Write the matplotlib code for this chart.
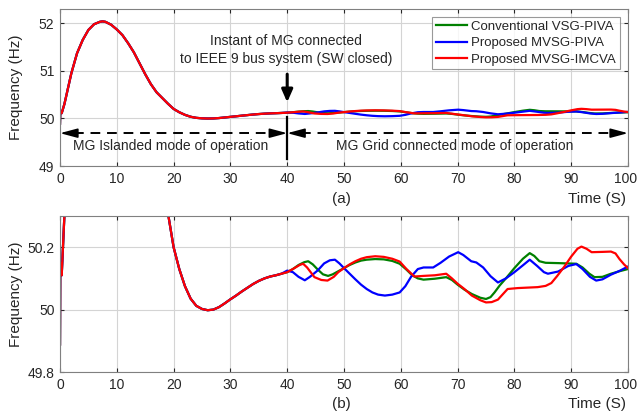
import matplotlib
matplotlib.use("Agg")
import matplotlib.pyplot as plt
from matplotlib.transforms import ScaledTranslation

plt.rcParams['font.family'] = ['Liberation Sans', 'DejaVu Sans']

# Islanded start-up transient (shared by all three controllers), 0-40 s
t_island = [0, 0.05, 0.3, 0.77, 1, 2, 3, 4, 5, 6, 7, 7.5, 8, 9, 10, 11, 12, 13, 14,
            15, 16, 17, 18, 19, 20, 21, 22, 23, 24, 25, 26, 27, 28, 29, 30, 31,
            32, 33, 34, 35, 36, 37, 38, 39]
f_island = [49.888, 50.15, 50.11, 50.30, 50.42, 50.95, 51.37, 51.65, 51.86, 51.98,
            52.03, 52.04, 52.03, 51.97, 51.87, 51.75, 51.58, 51.39, 51.16, 50.93,
            50.72, 50.55, 50.43, 50.31, 50.20, 50.13, 50.075, 50.035, 50.012,
            50.002, 49.998, 50.0, 50.008, 50.02, 50.033, 50.045, 50.058, 50.07,
            50.082, 50.092, 50.10, 50.106, 50.11, 50.115]

# Grid-connected operation, 40-100 s
t_vsg = [40, 41, 42, 43, 43.7, 44.5, 45.4, 46.3, 47.2, 48, 49, 50, 51, 52, 53, 54,
         55.5, 57, 58.5, 59.8, 61, 62, 63, 64, 66, 68, 69, 70, 71.2, 72.5, 74, 75,
         75.8, 76.5, 77.4, 78.5, 80, 81.5, 82.7, 83.5, 84.4, 85.5, 87.7, 90.9, 92,
         93.2, 94.1, 95.5, 97, 98.5, 100]
f_vsg_piva = [50.12, 50.13, 50.143, 50.152, 50.155, 50.145, 50.128, 50.113, 50.108,
              50.113, 50.123, 50.133, 50.143, 50.151, 50.157, 50.16, 50.162, 50.161,
              50.156, 50.147, 50.128, 50.11, 50.10, 50.096, 50.099, 50.104, 50.095,
              50.08, 50.064, 50.05, 50.038, 50.034, 50.04, 50.055, 50.077, 50.10,
              50.133, 50.163, 50.181, 50.172, 50.155, 50.15, 50.149, 50.147, 50.135,
              50.115, 50.104, 50.105, 50.115, 50.123, 50.13]

t_mvsg = [40, 41, 42, 43.1, 44, 45.4, 46.5, 47.5, 48.4, 49.2, 50, 51, 52, 53, 54, 55,
          56, 57.2, 58.5, 59.8, 60.8, 61.8, 63, 64, 65.7, 67, 68.5, 70.1, 71, 72.4,
          73.3, 74.5, 75.8, 77.1, 78.5, 80, 81.5, 82.7, 84, 85.2, 85.9, 87.7, 89.5,
          90.9, 92, 93.3, 94.4, 95.5, 97, 98.5, 100]
f_mvsg_piva = [50.125, 50.12, 50.105, 50.094, 50.105, 50.126, 50.148, 50.158, 50.16,
               50.148, 50.133, 50.115, 50.097, 50.08, 50.066, 50.055, 50.048, 50.045,
               50.048, 50.055, 50.075, 50.105, 50.13, 50.135, 50.135, 50.15, 50.17,
               50.184, 50.175, 50.155, 50.151, 50.135, 50.107, 50.087, 50.10, 50.12,
               50.142, 50.16, 50.14, 50.12, 50.115, 50.122, 50.14, 50.146, 50.13,
               50.105, 50.093, 50.097, 50.112, 50.124, 50.138]

t_imcva = [40, 41, 42.2, 42.8, 43.5, 44.8, 46, 47.1, 48.2, 49, 50, 51, 52, 53, 54,
           55.5, 57, 58.5, 59.8, 61, 62.4, 64, 66, 68, 69, 70, 71.2, 72.5, 74, 75, 76,
           77.1, 78, 78.8, 80.6, 84.1, 85.5, 86.5, 87.5, 88.8, 90, 91.1, 91.8, 92.7,
           93.6, 95.5, 97, 97.8, 98.5, 99.3, 100]
f_mvsg_imcva = [50.12, 50.13, 50.143, 50.147, 50.135, 50.104, 50.095, 50.093, 50.105,
                50.12, 50.133, 50.145, 50.155, 50.163, 50.168, 50.171, 50.169, 50.163,
                50.154, 50.13, 50.106, 50.108, 50.11, 50.115, 50.10, 50.083, 50.066,
                50.045, 50.03, 50.023, 50.024, 50.032, 50.05, 50.066, 50.069, 50.072,
                50.076, 50.085, 50.107, 50.138, 50.17, 50.195, 50.202, 50.195, 50.184,
                50.185, 50.186, 50.18, 50.162, 50.145, 50.133]

series = [
    ("Conventional VSG-PIVA", t_vsg, f_vsg_piva, "#008000"),
    ("Proposed MVSG-PIVA", t_mvsg, f_mvsg_piva, "#0000ff"),
    ("Proposed MVSG-IMCVA", t_imcva, f_mvsg_imcva, "#ff0000"),
]

x_ticks = [0, 10, 20, 30, 40, 50, 60, 70, 80, 90, 100]
y_ticks_a = [49, 50, 51, 52]
y_ticks_b = [49.8, 50, 50.2]
y_tick_labels_b = ["49.8", "50", "50.2"]

W, H = 638, 416
fig = plt.figure(figsize=(W / 100, H / 100), dpi=100)
ax_a = fig.add_axes([60 / W, 1 - 166 / H, 568 / W, 157 / H])
ax_b = fig.add_axes([60 / W, 1 - 372 / H, 568 / W, 156 / H])

text_col = "#262626"
for ax in (ax_a, ax_b):
    for name, t, f, col in series:
        ax.plot(t_island + t, f_island + f, color=col, lw=1.6, label=name)
    ax.set_xlim(0, 100)
    ax.set_xticks(x_ticks)
    ax.grid(True, color="#d4d4d4", lw=0.8)
    ax.set_axisbelow(True)
    ax.tick_params(direction="in", length=3, labelsize=10, colors=text_col,
                   top=True, right=True, pad=4)
    for sp in ax.spines.values():
        sp.set_color("#808080")
        sp.set_linewidth(0.8)
    ax.set_ylabel("Frequency (Hz)", fontsize=11, color=text_col)
    ax.yaxis.set_label_coords(-0.066, 0.5)
    # keep the last x tick label inside the canvas
    fig.canvas.draw()
    last = ax.get_xticklabels()[-1]
    last.set_transform(last.get_transform() + ScaledTranslation(-2 / 100, 0, fig.dpi_scale_trans))

ax_a.set_ylim(49, 52.3)
ax_a.set_yticks(y_ticks_a)
ax_b.set_ylim(49.8, 50.3)
ax_b.set_yticks(y_ticks_b)
ax_b.set_yticklabels(y_tick_labels_b)

leg = ax_a.legend(loc="upper right", fontsize=9.5, frameon=True, fancybox=False,
                  borderpad=0.3, labelspacing=0.3, handlelength=2.3,
                  handletextpad=0.35, borderaxespad=0.6)
leg.get_frame().set_edgecolor("#808080")
leg.get_frame().set_linewidth(0.8)
for txt in leg.get_texts():
    txt.set_color(text_col)

# Switching-instant annotation
ax_a.text(39.8, 51.43, "Instant of MG connected\nto IEEE 9 bus system (SW closed)",
          ha="center", va="center", fontsize=10, color=text_col, linespacing=1.35)
ax_a.annotate("", xy=(40, 50.34), xytext=(40, 50.93),
              arrowprops=dict(arrowstyle="-|>,head_length=0.75,head_width=0.33",
                              color="black", lw=2.2, shrinkA=0, shrinkB=0))
ax_a.plot([40, 40], [50.03, 49.15], color="black", lw=1.6)

# Operating-mode spans
y_mode = 49.69
for x0, x1 in [(0, 40), (40, 100)]:
    ax_a.plot([x0 + 2.5, x1 - 2.5], [y_mode, y_mode], color="black", lw=1.4,
              ls=(0, (5, 3.5)))
    for tip, tail in [(x0, x0 + 2.7), (x1, x1 - 2.7)]:
        ax_a.annotate("", xy=(tip, y_mode), xytext=(tail, y_mode),
                      arrowprops=dict(arrowstyle="-|>,head_length=1.05,head_width=0.28",
                                      color="black", lw=1.2, shrinkA=0, shrinkB=0))
ax_a.text(19.5, 49.41, "MG Islanded mode of operation", ha="center", va="center",
          fontsize=10, color=text_col)
ax_a.text(69.5, 49.41, "MG Grid connected mode of operation", ha="center",
          va="center", fontsize=10, color=text_col)

for ax, tag, yy in [(ax_a, "(a)", -0.21), (ax_b, "(b)", -0.205)]:
    ax.text(0.495, yy, tag, transform=ax.transAxes, ha="center", va="center",
            fontsize=11, color=text_col)
    ax.text(0.997, yy, "Time (S)", transform=ax.transAxes, ha="right", va="center",
            fontsize=11, color=text_col)

fig.savefig("out.png", dpi=100)
